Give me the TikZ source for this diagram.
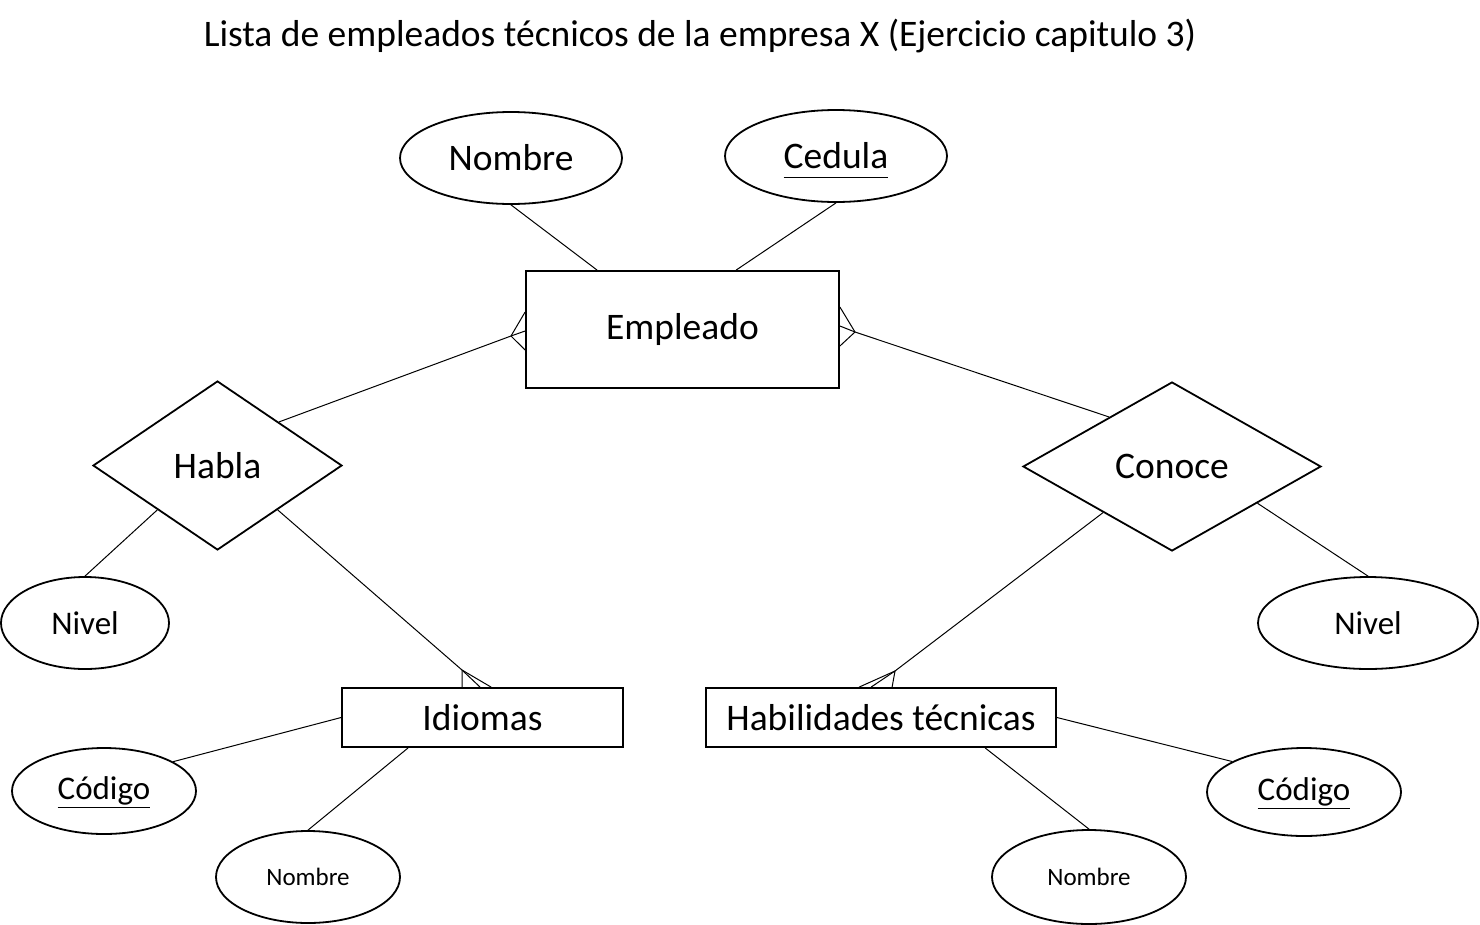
\documentclass[tikz,border=0pt]{standalone}
\usepackage{fontspec}
\setmainfont{Carlito}
\usetikzlibrary{shapes.geometric,calc}
\newcommand{\erkey}[1]{\smash{\underline{#1\vphantom{g}}}\vphantom{#1}}
\tikzset{
  er-entity/.style={draw,line width=1.8pt,rectangle,inner sep=0pt},
  er-rel/.style={draw,line width=1.8pt,diamond,inner sep=0pt},
  er-attr/.style={draw,line width=1.8pt,ellipse,inner sep=0pt},
  er-link/.style={line width=1pt},
  txt-big/.style={font=\fontsize{37.5}{42}\selectfont},
  txt-mid/.style={font=\fontsize{33}{37}\selectfont},
  txt-small/.style={font=\fontsize{25}{29}\selectfont},
}

\begin{document}
\begin{tikzpicture}[x=1pt,y=-1pt]
  \useasboundingbox (0,0) rectangle (1480,924);
  \node[txt-big] (title) at (700,36) {Lista de empleados técnicos de la empresa X (Ejercicio capitulo 3)};

  % entidades
  \node[er-entity,txt-big,minimum width=313pt,minimum height=117pt] (empleado) at (682.5,329.5) {Empleado};
  \node[er-entity,txt-big,minimum width=281pt,minimum height=59pt] (idiomas) at (482.5,717.5) {Idiomas};
  \node[er-entity,txt-big,minimum width=350pt,minimum height=59pt] (habil) at (881,717.5) {Habilidades técnicas\hspace{10pt}};

  % relaciones
  \node[er-rel,txt-big,minimum width=249pt,minimum height=169pt] (habla) at (217.5,465.5) {Habla};
  \node[er-rel,txt-big,minimum width=298pt,minimum height=169pt] (conoce) at (1172,466.5) {Conoce};

  % atributos
  \node[er-attr,txt-big,minimum width=222pt,minimum height=92pt] (nombre) at (511,158) {Nombre};
  \node[er-attr,txt-big,minimum width=222pt,minimum height=92pt] (cedula) at (836,156) {\erkey{Cedula}};
  \node[er-attr,txt-mid,minimum width=168pt,minimum height=92pt] (nivelA) at (85,623) {Nivel};
  \node[er-attr,txt-mid,minimum width=220pt,minimum height=92pt] (nivelB) at (1368,623) {Nivel};
  \node[er-attr,txt-mid,minimum width=184pt,minimum height=86pt] (codigoA) at (104,791) {\erkey{Código}};
  \node[er-attr,txt-mid,minimum width=194pt,minimum height=88pt] (codigoB) at (1304,792) {\erkey{Código}};
  \node[er-attr,txt-small,minimum width=184pt,minimum height=92pt] (nombreA) at (308,877) {Nombre};
  \node[er-attr,txt-small,minimum width=194pt,minimum height=94pt] (nombreB) at (1089,877) {Nombre};

  % patas de gallo
  \coordinate (cf-emp-l) at (511,336);
  \coordinate (cf-emp-r) at (855,332);
  \coordinate (cf-idi) at (462,670);
  \coordinate (cf-hab) at (895,671);

  \draw[er-link] (nombre.south) -- ($(empleado.north west)+(72,0)$);
  \draw[er-link] (cedula.south) -- ($(empleado.north west)+(211,0)$);

  \draw[er-link] ($(habla.north)!0.49!(habla.east)$) -- (cf-emp-l);
  \foreach \dy in {-17.5,1.5,20.5}
    \draw[er-link] (cf-emp-l) -- ($(empleado.west)+(0,\dy)$);
  \draw[er-link] ($(conoce.west)!0.58!(conoce.north)$) -- (cf-emp-r);
  \foreach \dy in {-22.5,-3.5,16.5}
    \draw[er-link] (cf-emp-r) -- ($(empleado.east)+(0,\dy)$);

  \draw[er-link] ($(habla.south)!0.48!(habla.east)$) -- (cf-idi);
  \foreach \dx in {121,139,150}
    \draw[er-link] (cf-idi) -- ($(idiomas.north west)+(\dx,0)$);
  \draw[er-link] ($(conoce.west)!0.54!(conoce.south)$) -- (cf-hab);
  \foreach \dx in {154,166,187}
    \draw[er-link] (cf-hab) -- ($(habil.north west)+(\dx,0)$);

  \draw[er-link] ($(habla.west)!0.52!(habla.south)$) -- (nivelA.north);
  \draw[er-link] ($(conoce.south)!0.57!(conoce.east)$) -- (nivelB.north);

  \draw[er-link] (idiomas.west) -- (codigoA.23);
  \draw[er-link] ($(idiomas.south west)+(67,0)$) -- (nombreA.north);
  \draw[er-link] (habil.east) -- (codigoB.157);
  \draw[er-link] ($(habil.south west)+(280,0)$) -- (nombreB.north);
\end{tikzpicture}
\end{document}
